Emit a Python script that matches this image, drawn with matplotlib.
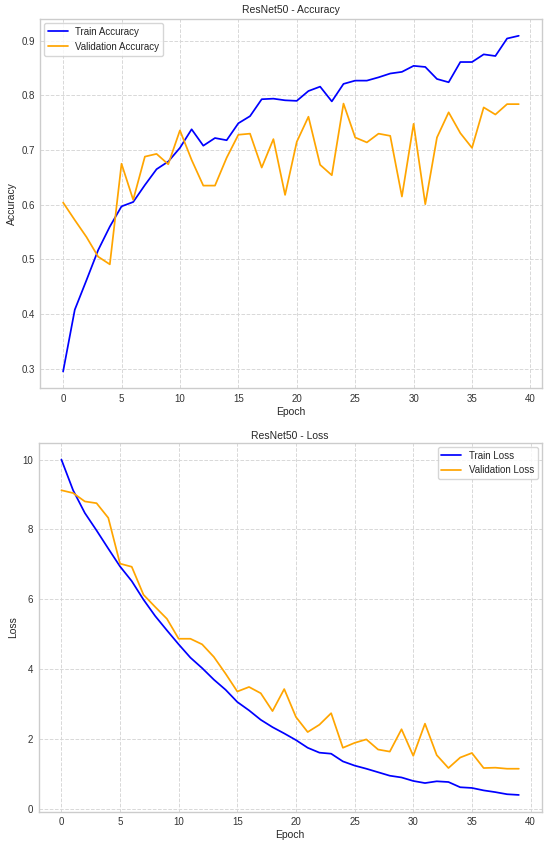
import matplotlib
matplotlib.use("Agg")
import matplotlib.pyplot as plt
import seaborn as sns
import numpy as np

epochs = list(range(40))

train_acc = [0.295, 0.408, 0.462, 0.517, 0.560, 0.597, 0.605, 0.636, 0.665, 0.679,
             0.704, 0.738, 0.708, 0.722, 0.718, 0.749, 0.762, 0.793, 0.794, 0.791,
             0.790, 0.808, 0.816, 0.789, 0.821, 0.827, 0.827, 0.833, 0.840, 0.843,
             0.854, 0.852, 0.830, 0.824, 0.861, 0.861, 0.875, 0.872, 0.904, 0.909]
val_acc = [0.604, 0.572, 0.541, 0.505, 0.491, 0.675, 0.609, 0.688, 0.693, 0.674,
           0.736, 0.682, 0.635, 0.635, 0.686, 0.728, 0.730, 0.668, 0.720, 0.618,
           0.715, 0.761, 0.673, 0.654, 0.785, 0.723, 0.714, 0.730, 0.726, 0.615,
           0.748, 0.601, 0.723, 0.769, 0.731, 0.704, 0.778, 0.765, 0.784, 0.784]

train_loss = [10.0, 9.12, 8.47, 7.97, 7.45, 6.94, 6.52, 5.99, 5.52, 5.11,
              4.71, 4.33, 4.03, 3.70, 3.41, 3.06, 2.82, 2.55, 2.34, 2.16,
              1.97, 1.75, 1.61, 1.58, 1.36, 1.24, 1.15, 1.05, 0.95, 0.90,
              0.80, 0.74, 0.79, 0.77, 0.62, 0.60, 0.53, 0.48, 0.42, 0.40]
val_loss = [9.12, 9.04, 8.80, 8.75, 8.33, 7.02, 6.93, 6.13, 5.78, 5.44,
            4.87, 4.87, 4.71, 4.35, 3.87, 3.36, 3.49, 3.31, 2.80, 3.43,
            2.63, 2.20, 2.41, 2.74, 1.75, 1.89, 1.99, 1.70, 1.64, 2.28,
            1.52, 2.44, 1.54, 1.17, 1.47, 1.60, 1.17, 1.18, 1.15, 1.15]

sns.set_theme(style="whitegrid")
plt.rcParams['font.family'] = ['Liberation Sans', 'DejaVu Sans']

fig = plt.figure(figsize=(5.5, 8.48), dpi=100)
ax1 = fig.add_axes([0.0733, 0.5421, 0.9113, 0.4355])
ax2 = fig.add_axes([0.0700, 0.0428, 0.9149, 0.4351])

TXT = '#262626'
for ax in (ax1, ax2):
    ax.grid(True, linestyle='--', linewidth=0.7, color='#d8d8d8')
    for s in ax.spines.values():
        s.set_color('#cccccc')
        s.set_linewidth(1.0)
    ax.tick_params(labelsize=7, colors='#333333', pad=4, length=0)

ax1.plot(epochs, train_acc, color='blue', linewidth=1.25, label='Train Accuracy')
ax1.plot(epochs, val_acc, color='orange', linewidth=1.25, label='Validation Accuracy')
ax1.set_title('ResNet50 - Accuracy', fontsize=7.5, color=TXT, pad=4)
ax1.set_xlabel('Epoch', fontsize=7.5, color=TXT, labelpad=2)
ax1.set_ylabel('Accuracy', fontsize=7.5, color=TXT, labelpad=3)
ax1.set_xticks([0, 5, 10, 15, 20, 25, 30, 35, 40])
ax1.set_yticks([0.3, 0.4, 0.5, 0.6, 0.7, 0.8, 0.9])
ax1.legend(loc='upper left', fontsize=7, frameon=True, borderaxespad=0.4)

ax2.plot(epochs, train_loss, color='blue', linewidth=1.25, label='Train Loss')
ax2.plot(epochs, val_loss, color='orange', linewidth=1.25, label='Validation Loss')
ax2.set_title('ResNet50 - Loss', fontsize=7.5, color=TXT, pad=3)
ax2.set_xlabel('Epoch', fontsize=7.5, color=TXT, labelpad=2)
ax2.set_ylabel('Loss', fontsize=7.5, color=TXT, labelpad=3)
ax2.set_xticks([0, 5, 10, 15, 20, 25, 30, 35, 40])
ax2.set_yticks([0, 2, 4, 6, 8, 10])
ax2.legend(loc='upper right', fontsize=7, frameon=True, borderaxespad=0.4)

fig.savefig('out.png', dpi=100)
